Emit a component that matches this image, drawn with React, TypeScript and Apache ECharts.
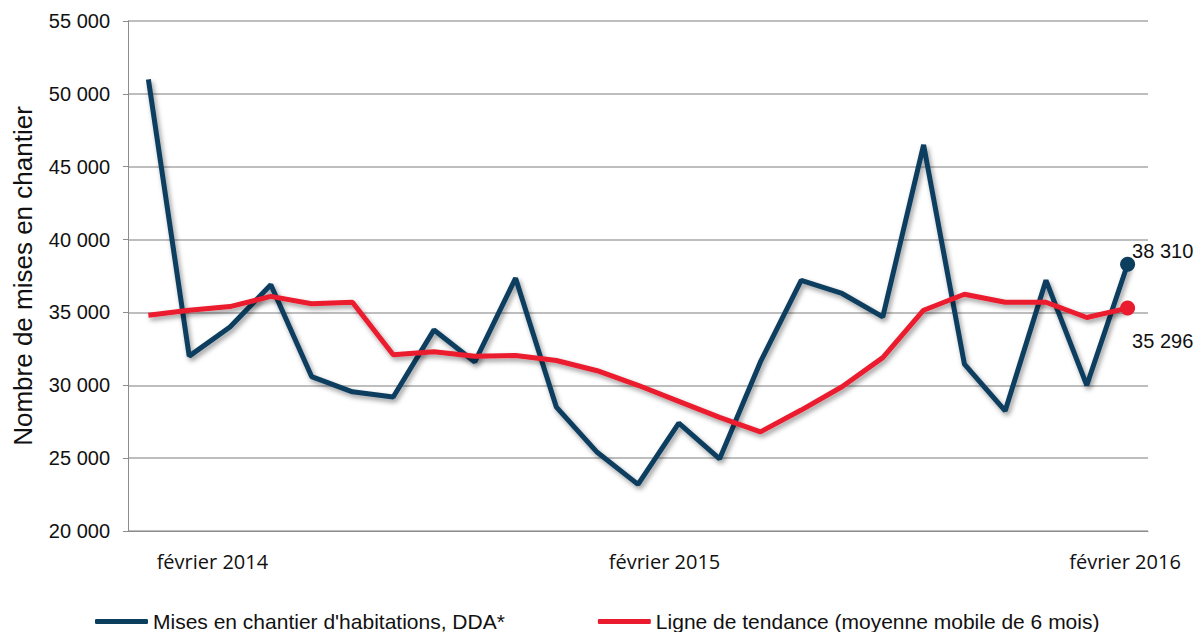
import React, { useEffect, useRef } from "react";
import * as echarts from "echarts";

const categories: string[] = [
  "février 2014", "mars 2014", "avril 2014", "mai 2014", "juin 2014", "juillet 2014", "août 2014",
  "septembre 2014", "octobre 2014", "novembre 2014", "décembre 2014", "janvier 2015",
  "février 2015", "mars 2015", "avril 2015", "mai 2015", "juin 2015", "juillet 2015", "août 2015",
  "septembre 2015", "octobre 2015", "novembre 2015", "décembre 2015", "janvier 2016",
  "février 2016",
];

const misesEnChantier: number[] = [
  51000, 32000, 34000, 36900, 30600, 29550, 29200, 33800, 31600, 37350, 28500, 25400,
  23200, 27400, 24950, 31600, 37200, 36300, 34700, 46500, 31450, 28250, 37200, 30000, 38310,
];

const tendance: number[] = [
  34800, 35150, 35400, 36100, 35600, 35700, 32100, 32300, 32000, 32050, 31700, 31000,
  30000, 28900, 27800, 26800, 28300, 29900, 31900, 35150, 36250, 35700, 35700, 34650, 35296,
];

const yTicks = { min: 20000, max: 55000, interval: 5000 };

const seriesNames = ["Mises en chantier d'habitations, DDA*", "Ligne de tendance (moyenne mobile de 6 mois)"];

const BLUE = "#0c3e5e";
const RED = "#ea1b2f";
const SANS = "'Liberation Sans', Arial, sans-serif";
const XFONT = "'Open Sans', sans-serif";

const fmt = (v: number) => String(v).replace(/\B(?=(\d{3})+(?!\d))/g, " ");

export default function App() {
  const ref = useRef<HTMLDivElement>(null);
  useEffect(() => {
    if (!ref.current) return;
    const chart = echarts.init(ref.current, undefined, { renderer: "svg" });
    const last = categories.length - 1;
    const shadow = {
      shadowColor: "rgba(0,0,0,0.4)",
      shadowBlur: 5,
      shadowOffsetX: 2,
      shadowOffsetY: 3,
    };
    const mkData = (arr: number[], labelPos: number[]) =>
      arr.map((v, i) =>
        i === last
          ? {
              value: v,
              symbol: "circle",
              symbolSize: 15,
              label: {
                show: true,
                position: labelPos,
                formatter: () => fmt(v),
                fontFamily: SANS,
                fontSize: 20,
                color: "#111",
              },
            }
          : { value: v, symbol: "none" }
      );
    chart.setOption({
      animation: false,
      backgroundColor: "#fff",
      grid: { left: 128, right: 54, top: 21, bottom: 101, containLabel: false },
      legend: {
        left: 90,
        top: 606,
        itemGap: 93,
        itemWidth: 53,
        itemHeight: 5,
        icon: "roundRect",
        textStyle: { fontFamily: SANS, fontSize: 21, color: "#111" },
        data: seriesNames,
      },
      xAxis: {
        type: "category",
        data: categories,
        boundaryGap: true,
        axisLine: { show: true, lineStyle: { color: "#8c8c8c", width: 1 } },
        axisTick: { show: false },
        axisLabel: {
          interval: 11,
          margin: 20,
          fontFamily: XFONT,
          fontSize: 20,
          color: "#111",
          formatter: (value: string, index: number) =>
            index === 0 ? `{a|${value}}` : index === 12 ? `{b|${value}}` : `{c|${value}}`,
          rich: {
            a: { padding: [0, 0, 0, 128], fontFamily: XFONT, fontSize: 20, color: "#111" },
            b: { padding: [0, 0, 0, 53], fontFamily: XFONT, fontSize: 20, color: "#111" },
            c: { padding: [0, 5, 0, 0], fontFamily: XFONT, fontSize: 20, color: "#111" },
          },
        },
        splitLine: { show: false },
      },
      yAxis: {
        type: "value",
        min: yTicks.min,
        max: yTicks.max,
        interval: yTicks.interval,
        name: "Nombre de mises en chantier",
        nameLocation: "middle",
        nameGap: 92,
        nameTextStyle: { fontFamily: SANS, fontSize: 26, color: "#111" },
        axisLine: { show: true, lineStyle: { color: "#8c8c8c", width: 1 } },
        axisTick: { show: true, length: 5, lineStyle: { color: "#8c8c8c" } },
        axisLabel: {
          margin: 18,
          fontFamily: SANS,
          fontSize: 20,
          color: "#111",
          formatter: (v: number) => fmt(v),
        },
        splitLine: { show: true, lineStyle: { color: "#a8a8a8", width: 1.5 } },
      },
      series: [
        {
          name: seriesNames[0],
          type: "line",
          data: mkData(misesEnChantier, [12, -16]),
          showSymbol: true,
          itemStyle: { color: BLUE },
          lineStyle: { color: BLUE, width: 5, ...shadow },
          z: 2,
        },
        {
          name: seriesNames[1],
          type: "line",
          data: mkData(tendance, [12, 30]),
          showSymbol: true,
          itemStyle: { color: RED },
          lineStyle: { color: RED, width: 5, ...shadow },
          z: 3,
        },
      ],
    });
    return () => chart.dispose();
  }, []);
  return <div ref={ref} style={{ position: "fixed", left: 0, top: 0, width: 1202, height: 632 }} />;
}
